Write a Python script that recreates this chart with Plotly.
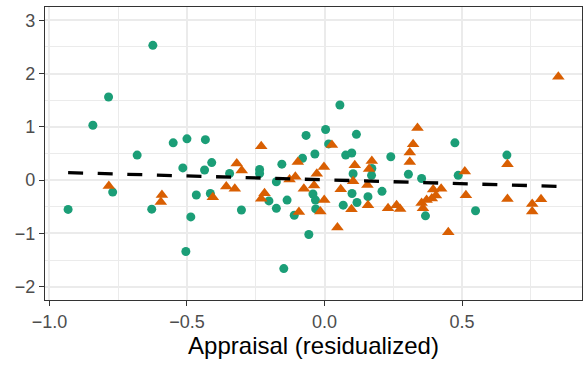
import plotly.graph_objects as go

# Green circles
green_x = [-0.932, -0.842, -0.785, -0.770, -0.681, -0.628, -0.624, -0.550, -0.515, -0.504,
           -0.500, -0.486, -0.466, -0.436, -0.433, -0.415, -0.410, -0.345, -0.302, -0.236,
           -0.236, -0.202, -0.175, -0.175, -0.155, -0.148, -0.136, -0.110, -0.080, -0.067,
           -0.057, -0.042, -0.035, -0.033, -0.032, 0.004, 0.015, 0.056, 0.068, 0.077,
           0.099, 0.100, 0.104, 0.116, 0.118, 0.158, 0.172, 0.171, 0.209, 0.241,
           0.305, 0.353, 0.367, 0.474, 0.486, 0.549, 0.663]
green_y = [-0.55, 1.03, 1.56, -0.225, 0.47, -0.545, 2.53, 0.70, 0.23, -1.34,
           0.775, -0.69, -0.28, 0.19, 0.76, -0.25, 0.33, 0.125, -0.56, 0.20,
           0.125, -0.39, -0.03, -0.53, 0.30, -1.66, -0.375, -0.66, 0.41, 0.84,
           -1.02, -0.26, 0.49, -0.375, -0.54, 0.95, 0.68, 1.41, -0.47, 0.47,
           0.51, -0.25, 0.12, 0.86, -0.42, -0.31, 0.22, 0.09, -0.21, 0.44,
           0.11, 0.03, -0.67, 0.70, 0.09, -0.575, 0.47]

# Orange triangles
orange_x = [-0.784, -0.595, -0.591, -0.406, -0.357, -0.326, -0.319, -0.301, -0.230, -0.218,
            -0.230, -0.127, -0.106, -0.097, -0.093, -0.075, -0.038, -0.028, -0.002, -0.001,
            -0.015, 0.027, 0.047, 0.059, 0.104, 0.110, 0.098, 0.156, 0.162, 0.172,
            0.158, 0.231, 0.262, 0.275, 0.310, 0.310, 0.322, 0.338, 0.353, 0.358,
            0.371, 0.390, 0.395, 0.405, 0.424, 0.450, 0.510, 0.514, 0.665, 0.665,
            0.755, 0.755, 0.787, 0.850]
orange_y = [-0.11, -0.41, -0.28, -0.32, -0.12, -0.16, 0.31, 0.18, 0.635, -0.245,
            -0.35, 0.01, 0.065, 0.34, -0.60, -0.16, -0.10, 0.12, 0.245, -0.375,
            -0.59, 0.66, -0.89, -0.17, -0.02, 0.28, -0.545, -0.09, 0.21, 0.36,
            -0.47, -0.53, -0.47, -0.54, 0.34, 0.52, 0.675, 0.98, -0.43, -0.53,
            -0.375, -0.345, -0.175, -0.29, -0.16, -0.98, 0.16, -0.285, 0.30, -0.355,
            -0.45, -0.59, -0.36, 1.94]

# Regression line endpoints
line_x = [-0.932, 0.850]
line_y = [0.141, -0.117]

x_ticks = [-1.0, -0.5, 0.0, 0.5]
y_ticks = [-2, -1, 0, 1, 2, 3]

fig = go.Figure()
fig.add_trace(go.Scatter(x=green_x, y=green_y, mode="markers",
                         marker=dict(symbol="circle", size=9, color="#1b9e77"),
                         showlegend=False))
fig.add_trace(go.Scatter(x=orange_x, y=orange_y, mode="markers",
                         marker=dict(symbol="triangle-up", size=11, color="#d95f02"),
                         showlegend=False))
fig.add_trace(go.Scatter(x=line_x, y=line_y, mode="lines",
                         line=dict(color="black", width=3.3, dash="15px,14.6px"),
                         showlegend=False))

axis_common = dict(
    showline=True, linecolor="#333333", linewidth=1.2, mirror=True,
    ticks="outside", ticklen=5, tickcolor="#333333", tickwidth=1,
    showgrid=True, gridcolor="#EBEBEB", gridwidth=1.6,
    minor=dict(showgrid=True, gridcolor="#EBEBEB", gridwidth=0.9, ticks=""),
    zeroline=False, automargin=False,
    tickfont=dict(family="Liberation Sans, Arial, sans-serif", size=18, color="#4D4D4D"),
)

fig.update_xaxes(range=[-1.016, 0.936], tickvals=x_ticks, tickformat=".1f",
                 minor_dtick=0.25, minor_tick0=-0.75,
                 title=dict(text="Appraisal (residualized)",
                            font=dict(family="Liberation Sans, Arial, sans-serif", size=24, color="black"),
                            standoff=6),
                 **axis_common)
fig.update_yaxes(range=[-2.25, 3.25], tickvals=y_ticks,
                 minor_dtick=0.5, minor_tick0=0.5,
                 **axis_common)

fig.update_layout(width=584, height=366,
                  margin=dict(l=45, r=2, t=7, b=66),
                  plot_bgcolor="white", paper_bgcolor="white")

fig.write_html("out.html", config={"displayModeBar": False},
               post_script="document.body.style.margin='0';document.body.style.overflow='hidden';")
